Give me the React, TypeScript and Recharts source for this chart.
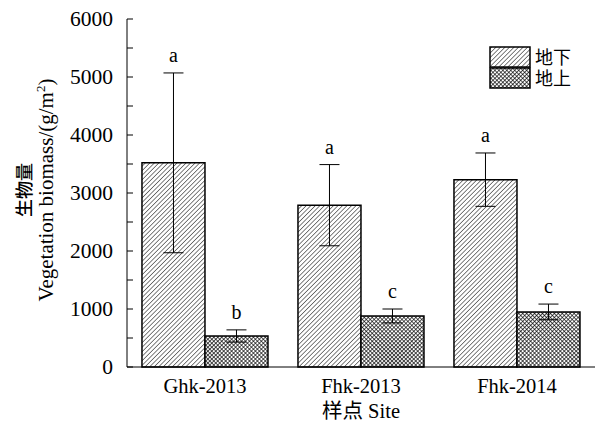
import React from "react";
import {
    BarChart,
    Bar,
    XAxis,
    YAxis,
    ErrorBar,
    LabelList,
} from "recharts";

const sites = ["Ghk-2013", "Fhk-2013", "Fhk-2014"];
const below = [3520, 2790, 3230];
const belowErr = [1550, 700, 460];
const belowSig = ["a", "a", "a"];
const above = [535, 880, 950];
const aboveErr = [105, 120, 135];
const aboveSig = ["b", "c", "c"];
const yTicks = [0, 500, 1000, 1500, 2000, 2500, 3000, 3500, 4000, 4500, 5000, 5500, 6000];
const legendNames = ["地下", "地上"];

const data = sites.map((site, i) => ({
    site,
    below: below[i],
    belowErr: belowErr[i],
    belowSig: belowSig[i],
    above: above[i],
    aboveErr: aboveErr[i],
    aboveSig: aboveSig[i],
}));

const FONT = "'Liberation Serif', 'Times New Roman', 'Noto Sans CJK SC', serif";
const CJK = "'Noto Sans CJK SC', serif";

function YTick(props: any) {
    const { x, y, payload } = props;
    const axisX = x + 14;
    const major = payload.value % 1000 === 0;
    return (
        <g>
            <line x1={axisX} x2={axisX + 6} y1={y} y2={y} stroke="#000" strokeWidth={1} />
            {major && (
                <text x={x} y={y} dy={7} textAnchor="end" fontSize={21.5} fontFamily={FONT} fill="#000">
                    {payload.value}
                </text>
            )}
        </g>
    );
}

// significance letter sits a little above the error bar cap
const sigLabel = (errs: number[], vals: number[]) => (props: any) => {
    const { x, y, width, height, value, index } = props;
    const perUnit = height / vals[index];
    const top = y - errs[index] * perUnit;
    return (
        <text x={x + width / 2} y={top - 11} textAnchor="middle" fontSize={20} fontFamily={FONT} fill="#000">
            {value}
        </text>
    );
};

function LegendBox() {
    const fills = ["url(#hatch)", "url(#cross)"];
    return (
        <svg width={106} height={60} overflow="visible" style={{ position: "absolute", left: 489, top: 40 }}>
            {fills.map((f, i) => (
                <rect key={i} x={1} y={7 + i * 21} width={40} height={20} fill={f} stroke="#000" strokeWidth={1.5} />
            ))}
            <text fontSize={18} fontFamily={CJK} fill="#000">
                {legendNames.map((name, i) => (
                    <tspan key={name} x={46} y={24 + i * 21}>
                        {name}
                    </tspan>
                ))}
            </text>
        </svg>
    );
}

function YLabel() {
    const cy = 190;
    return (
        <g>
            <text
                transform={`translate(31, ${cy}) rotate(-90)`}
                textAnchor="middle"
                fontSize={18}
                fontFamily={CJK}
                fontWeight={500}
                fill="#000"
            >
                生物量
            </text>
            <text
                transform={`translate(53, ${cy}) rotate(-90)`}
                textAnchor="middle"
                fontSize={21}
                fontFamily={FONT}
                fill="#000"
            >
                Vegetation biomass/(g/m<tspan dy={-8} fontSize={13}>2</tspan>
                <tspan dy={8}>)</tspan>
            </text>
        </g>
    );
}

function XLabel() {
    return (
        <text x={361} y={418} textAnchor="middle" fontSize={20.5} fill="#000">
            <tspan fontFamily={CJK}>样点</tspan>
            <tspan fontFamily={FONT}> Site</tspan>
        </text>
    );
}

export default function App() {
    return (
        <div style={{ position: "absolute", left: 0, top: 0, width: 595, height: 426, background: "#fff" }}>
            <BarChart
                width={595}
                height={426}
                data={data}
                margin={{ top: 19, right: 0, bottom: 0, left: 0 }}
                barCategoryGap="9.6%"
                barGap={0}
            >
                <defs>
                    <pattern id="hatch" patternUnits="userSpaceOnUse" width={3.2} height={3.2} patternTransform="rotate(45)">
                        <rect width={3.2} height={3.2} fill="#fff" />
                        <line x1={0} y1={0} x2={0} y2={3.2} stroke="#000" strokeWidth={1} />
                    </pattern>
                    <pattern id="cross" patternUnits="userSpaceOnUse" width={2.8} height={2.8} patternTransform="rotate(45)">
                        <rect width={2.8} height={2.8} fill="#fff" />
                        <line x1={0} y1={0} x2={0} y2={2.8} stroke="#000" strokeWidth={1.3} />
                        <line x1={0} y1={0} x2={2.8} y2={0} stroke="#000" strokeWidth={1.3} />
                    </pattern>
                </defs>
                <XAxis
                    dataKey="site"
                    height={59}
                    tickLine={false}
                    tickSize={0}
                    tickMargin={11}
                    axisLine={{ stroke: "#000", strokeWidth: 1 }}
                    tick={{ fontSize: 20.5, fontFamily: FONT, fill: "#000" }}
                    label={{ content: XLabel }}
                />
                <YAxis
                    width={127}
                    domain={[0, 6000]}
                    ticks={yTicks}
                    interval={0}
                    tickLine={false}
                    tickSize={0}
                    tickMargin={14}
                    axisLine={{ stroke: "#000", strokeWidth: 1 }}
                    tick={<YTick />}
                    label={{ content: YLabel }}
                />
                <Bar
                    dataKey="below"
                    name="地下"
                    fill="url(#hatch)"
                    stroke="#000"
                    strokeWidth={1.5}
                    isAnimationActive={false}
                >
                    <ErrorBar dataKey="belowErr" width={10} stroke="#000" strokeWidth={1} direction="y" />
                    <LabelList dataKey="belowSig" content={sigLabel(belowErr, below)} />
                </Bar>
                <Bar
                    dataKey="above"
                    name="地上"
                    fill="url(#cross)"
                    stroke="#000"
                    strokeWidth={1.5}
                    isAnimationActive={false}
                >
                    <ErrorBar dataKey="aboveErr" width={10} stroke="#000" strokeWidth={1} direction="y" />
                    <LabelList dataKey="aboveSig" content={sigLabel(aboveErr, above)} />
                </Bar>
            </BarChart>
            <LegendBox />
        </div>
    );
}
